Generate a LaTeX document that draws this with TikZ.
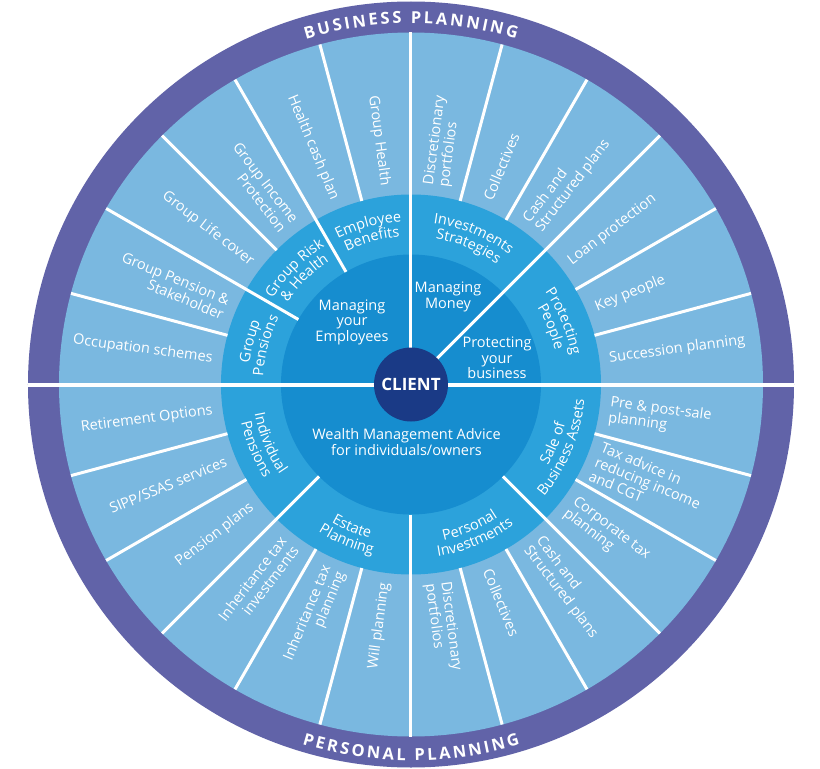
\documentclass[tikz,border=0pt]{standalone}
\usepackage{fontspec}
\setmainfont{Open Sans}
\usetikzlibrary{decorations.text}
\definecolor{ringpurple}{HTML}{6163A8}
\definecolor{outerblue}{HTML}{7AB8E0}
\definecolor{midblue}{HTML}{2CA2DB}
\definecolor{innerblue}{HTML}{168DCF}
\definecolor{clientblue}{HTML}{1A3A86}
\newcommand\lbfont{\fontsize{14.5}{15.5}\selectfont}
\newcommand\ringfont{\fontsize{16.5}{18}\selectfont\bfseries}
\newcommand\clientfont{\fontsize{17}{19}\selectfont\bfseries}
\tikzset{
  sep/.style={white, line width=3pt},
  outR/.style={anchor=west, text=white, font=\lbfont, align=left, inner sep=0pt},
  outL/.style={anchor=east, text=white, font=\lbfont, align=right, inner sep=0pt},
  innertext/.style={text=white, font=\lbfont, align=center, inner sep=0pt},
  ringtext/.style={decorate, decoration={text along path, text align=center, text color=white, text={|\lbfont|#1}}},
}
\newcommand\uplabel[3]{%
  \path[ringtext={#2}] (#1+40:163pt) arc[start angle=#1+40, end angle=#1-40, radius=163pt];
  \path[ringtext={#3}] (#1+40:148pt) arc[start angle=#1+40, end angle=#1-40, radius=148pt];}
\newcommand\lowlabel[3]{%
  \path[ringtext={#2}] (#1-40:159pt) arc[start angle=#1-40, end angle=#1+40, radius=159pt];
  \path[ringtext={#3}] (#1-40:174pt) arc[start angle=#1-40, end angle=#1+40, radius=174pt];}
\begin{document}
\begin{tikzpicture}[x=1pt,y=1pt]
\useasboundingbox (-411,-384.5) rectangle (409,384.5);
\fill[white] (-411,-384.5) rectangle (409,384.5);
% rings
\fill[ringpurple] (0,0) circle[radius=383pt];
\fill[outerblue] (0,0) circle[radius=352pt];
\fill[midblue] (0,0) circle[radius=190pt];
\fill[innerblue] (0,0) circle[radius=130pt];
% separators
\draw[sep, line width=4pt] (180:383pt) -- (0:383pt);
\foreach \a in {15,30,60,75,105,135,165,195,210,240,255,285,300,330,345}
  \draw[sep] (\a:190pt) -- (\a:352pt);
\foreach \a in {120,150,225,315}
  \draw[sep] (\a:130pt) -- (\a:352pt);
\draw[sep] (90:20pt) -- (90:352pt);
\draw[sep] (45:20pt) -- (45:352pt);
\draw[sep] (270:130pt) -- (270:352pt);
% client
\node[circle, fill=clientblue, minimum size=74pt, inner sep=0pt, text=white, font=\clientfont] (client) at (0,0) {CLIENT};
% inner texts
\node[innertext] (employees) at (-59,62.5) {Managing\\your\\Employees};
\node[innertext] (money) at (37,87.5) {Managing\\Money};
\node[innertext] (business) at (86,26.5) {Protecting\\your\\business};
\node[innertext] (wealth) at (-4.5,-57.5) {Wealth Management Advice\\for individuals/owners};
% middle ring labels
\uplabel{105}{Employee}{Benefits}
\uplabel{135}{Group Risk}{{\&} Health}
\uplabel{165}{Group}{Pensions}
\uplabel{67.5}{Investments}{Strategies}
\uplabel{22.5}{Protecting}{People}
\lowlabel{202.5}{Individual}{Pensions}
\lowlabel{247.5}{Estate}{Planning}
\lowlabel{292.5}{Personal}{Investments}
\lowlabel{337.5}{Sale of}{Business Assets}
% outer labels, right half
\node[outR, rotate=82.5] (o1) at (82.5:200pt) {Discretionary\\portfolios};
\node[outR, rotate=67.5] (o2) at (67.5:200pt) {Collectives};
\node[outR, rotate=52.5] (o3) at (52.5:200pt) {Cash and\\Structured plans};
\node[outR, rotate=37.5] (o4) at (37.5:200pt) {Loan protection};
\node[outR, rotate=22.5] (o5) at (22.5:200pt) {Key people};
\node[outR, rotate=7.5] (o6) at (7.5:200pt) {Succession planning};
\node[outR, rotate=-7.5] (o7) at (-7.5:200pt) {Pre \& post-sale\\planning};
\node[outR, rotate=-22.5] (o8) at (-22.5:200pt) {Tax advice in\\reducing income\\and CGT};
\node[outR, rotate=-37.5] (o9) at (-37.5:200pt) {Corporate tax\\planning};
\node[outR, rotate=-52.5] (o10) at (-52.5:200pt) {Cash and\\Structured plans};
\node[outR, rotate=-67.5] (o11) at (-67.5:200pt) {Collectives};
\node[outR, rotate=-82.5] (o12) at (-82.5:200pt) {Discretionary\\portfolios};
% outer labels, left half
\node[outL, rotate=-82.5] (o13) at (97.5:200pt) {Group Health};
\node[outL, rotate=-67.5] (o14) at (112.5:200pt) {Health cash plan};
\node[outL, rotate=-52.5] (o15) at (127.5:200pt) {Group Income\\Protection};
\node[outL, rotate=-37.5] (o16) at (142.5:200pt) {Group Life cover};
\node[outL, rotate=-22.5] (o17) at (157.5:200pt) {Group Pension \&\\Stakeholder};
\node[outL, rotate=-7.5] (o18) at (172.5:200pt) {Occupation schemes};
\node[outL, rotate=7.5] (o19) at (187.5:200pt) {Retirement Options};
\node[outL, rotate=22.5] (o20) at (202.5:200pt) {SIPP/SSAS services};
\node[outL, rotate=37.5] (o21) at (217.5:200pt) {Pension plans};
\node[outL, rotate=52.5] (o22) at (232.5:200pt) {Inheritance tax\\investments};
\node[outL, rotate=67.5] (o23) at (247.5:200pt) {Inheritance tax\\planning};
\node[outL, rotate=82.5] (o24) at (262.5:200pt) {Will planning};
% ring titles
\path[decorate, decoration={text along path, text align=center, text color=white,
  text={|\ringfont|B{\kern2.6pt}U{\kern2.6pt}S{\kern2.6pt}I{\kern2.6pt}N{\kern2.6pt}E{\kern2.6pt}S{\kern2.6pt}S{\kern9pt}P{\kern2.6pt}L{\kern2.6pt}A{\kern2.6pt}N{\kern2.6pt}N{\kern2.6pt}I{\kern2.6pt}N{\kern2.6pt}G}}]
  (150:361pt) arc[start angle=150, end angle=30, radius=361pt];
\path[decorate, decoration={text along path, text align=center, text color=white,
  text={|\ringfont|P{\kern2.6pt}E{\kern2.6pt}R{\kern2.6pt}S{\kern2.6pt}O{\kern2.6pt}N{\kern2.6pt}A{\kern2.6pt}L{\kern9pt}P{\kern2.6pt}L{\kern2.6pt}A{\kern2.6pt}N{\kern2.6pt}N{\kern2.6pt}I{\kern2.6pt}N{\kern2.6pt}G}}]
  (210:376pt) arc[start angle=210, end angle=330, radius=376pt];
\end{tikzpicture}
\end{document}
